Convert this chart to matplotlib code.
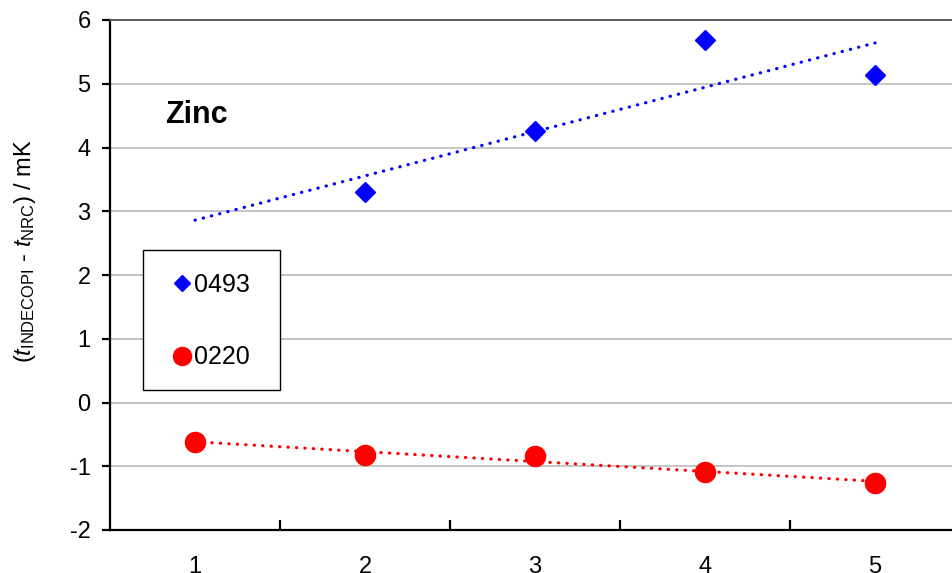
import matplotlib
matplotlib.use("Agg")
import matplotlib.pyplot as plt
from matplotlib.patches import Rectangle
import numpy as np

plt.rcParams["font.family"] = ["Liberation Sans", "DejaVu Sans"]
plt.rcParams["mathtext.fontset"] = "custom"
plt.rcParams["mathtext.rm"] = "Liberation Sans"
plt.rcParams["mathtext.it"] = "Liberation Sans:italic"

# measurement runs and differences in mK
x_0493 = [2, 3, 4, 5]
y_0493 = [3.30, 4.26, 5.69, 5.14]
x_0220 = [1, 2, 3, 4, 5]
y_0220 = [-0.62, -0.82, -0.84, -1.09, -1.26]
x_ticks = [1, 2, 3, 4, 5]
y_ticks = [-2, -1, 0, 1, 2, 3, 4, 5, 6]

blue = "#0000FF"
red = "#FF0000"
H = 573

fig = plt.figure(figsize=(9.52, 5.73), dpi=100)
ax = fig.add_axes([110 / 952, 1 - 530 / H, 850 / 952, 510 / H])
ax.set_xlim(0.5, 5.5)
ax.set_ylim(-2, 6)

for yv in y_ticks:
    ax.axhline(yv, color="#c0c0c0", lw=1.3, zorder=0)


def trend(ax, xs, ys, c):
    # least-squares line over the full category range
    k, b = np.polyfit(xs, ys, 1)
    xx = np.array([1, 5])
    ax.plot(xx, k * xx + b, color=c, lw=2.3, linestyle=(0, (0.1, 2.55)),
            dash_capstyle="round", zorder=2)


trend(ax, x_0493, y_0493, blue)
trend(ax, x_0220, y_0220, red)

h1, = ax.plot(x_0493, y_0493, "D", color=blue, ms=10.5, mec=blue, zorder=3,
              label="0493")
h2, = ax.plot(x_0220, y_0220, "o", color=red, ms=14.5, mec=red, zorder=3,
              label="0220")

for s in ["left", "bottom"]:
    ax.spines[s].set_linewidth(1.6)
    ax.spines[s].set_color("black")
ax.spines["top"].set_color("#555555")
ax.spines["top"].set_linewidth(1.3)
ax.spines["right"].set_visible(False)

ax.set_yticks(y_ticks)
ax.set_yticklabels([str(v) for v in y_ticks])
ax.tick_params(axis="y", direction="out", length=6, width=1.6, pad=8,
               labelsize=17)
ax.set_xticks(x_ticks)
ax.set_xticklabels([str(v) for v in x_ticks])
ax.tick_params(axis="x", which="major", length=0, pad=19, labelsize=17)
ax.set_xticks([1.5, 2.5, 3.5, 4.5], minor=True)
ax.tick_params(axis="x", which="minor", direction="in", length=7, width=1.6)

ax.set_ylabel(r"($t_{\rm INDECOPI}$ - $t_{\rm NRC}$) / mK", fontsize=17)
ax.yaxis.set_label_coords((38 - 110) / 850, (530 - 251) / 510)

ax.text(165, H - 115, "Zinc", transform=None, fontsize=22, fontweight="bold",
        va="center", ha="left")

# legend box drawn in pixel coordinates
box = Rectangle((143, H - 390), 137, 140, transform=None, fc="white",
                ec="black", lw=1.0, zorder=4, clip_on=False)
ax.add_artist(box)
leg = ax.legend(handles=[h1, h2], loc="center left",
                bbox_to_anchor=(159 / 952, 1 - 321 / H),
                bbox_transform=fig.transFigure, frameon=False, fontsize=18,
                handlelength=0.8, handletextpad=0.1, labelspacing=1.95,
                borderpad=0)
leg.legend_handles[0].set_markersize(8)
leg.legend_handles[1].set_markersize(13)
leg.set_zorder(5)

fig.savefig("out.png", dpi=100)
